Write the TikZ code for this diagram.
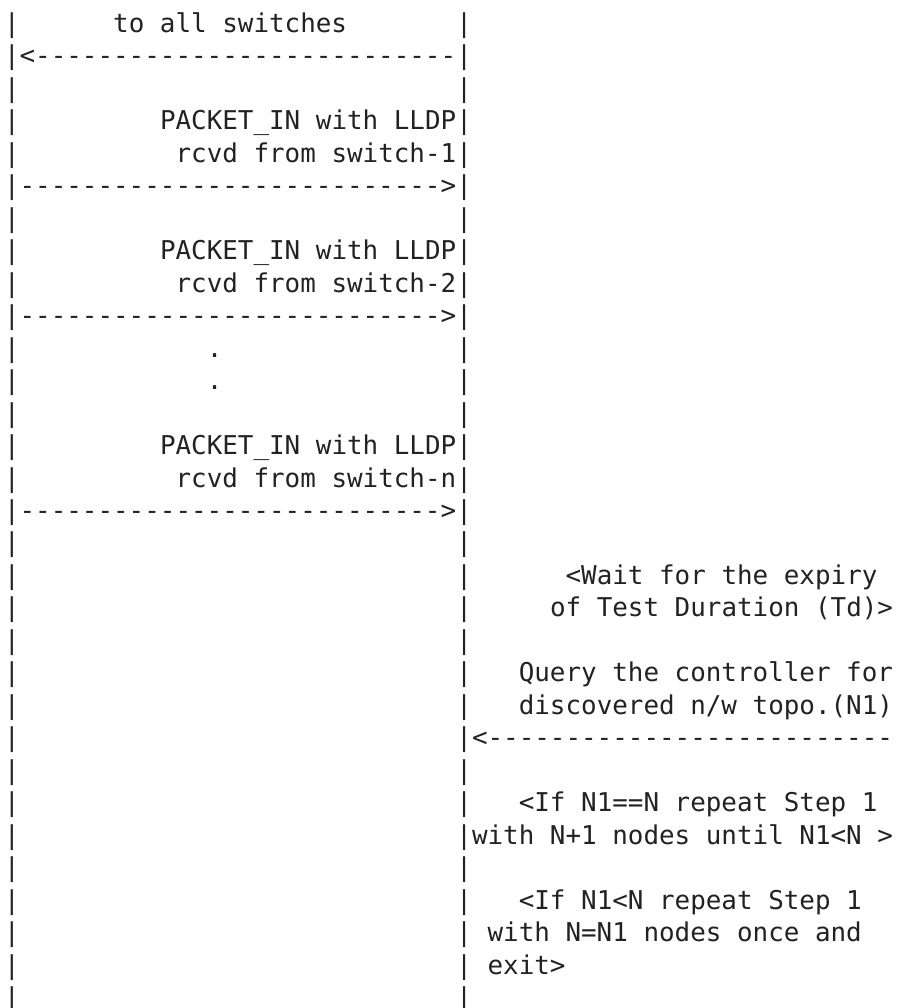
\documentclass[tikz,border=0pt]{standalone}
\usepackage{fontspec}
\setmonofont{DejaVu Sans Mono}
\usetikzlibrary{positioning}
\definecolor{ink}{RGB}{34,34,34}
\tikzset{txt/.style={anchor=base west, inner sep=0pt, outer sep=0pt, text=ink,
  font=\ttfamily\fontsize{12.95bp}{16bp}\selectfont}}

\begin{document}
\begin{tikzpicture}[x=7.8bp, y=-16.235bp]
\useasboundingbox (-0.2564, 0) rectangle (57.308, 31.044);
\def\ca{0}
\def\cb{29}
\def\cc{30}

% the two life lines
\foreach \l in {1,...,31} {
  \node[txt](lp\l) at (\ca, \l) {|};
  \node[txt](rp\l) at (\cb, \l) {|};
}

\node[txt](all) at (7, 1) {to all switches};
\node[txt](flood) at (1, 2) {<---------------------------};

\node[txt](pa) at (10, 4) {PACKET\_IN with LLDP};
\node[txt](sa) at (11, 5) {rcvd from switch-1};
\node[txt](inA) at (1, 6) {--------------------------->};

\node[txt](pb) at (10, 8) {PACKET\_IN with LLDP};
\node[txt](sb) at (11, 9) {rcvd from switch-2};
\node[txt](inB) at (1, 10) {--------------------------->};

\node[txt](dota) at (13, 11) {.};
\node[txt](dotb) at (13, 12) {.};

\node[txt](pn) at (10, 14) {PACKET\_IN with LLDP};
\node[txt](sn) at (11, 15) {rcvd from switch-n};
\node[txt](inN) at (1, 16) {--------------------------->};

% right hand notes
\node[txt](wait) at (36, 18) {<Wait for the expiry};
\node[txt](td) at (35, 19) {of Test Duration (Td)>};
\node[txt](query) at (33, 21) {Query the controller for};
\node[txt](topo) at (33, 22) {discovered n/w topo.(N1)};
\node[txt](ask) at (\cc, 23) {<--------------------------};

\node[txt](ifa) at (33, 25) {<If N1==N repeat Step 1};
\node[txt](ifb) at (\cc, 26) {with N+1 nodes until N1<N >};
\node[txt](ifc) at (33, 28) {<If N1<N repeat Step 1};
\node[txt](ifd) at (31, 29) {with N=N1 nodes once and};
\node[txt](exit) at (31, 30) {exit>};

\end{tikzpicture}
\end{document}
